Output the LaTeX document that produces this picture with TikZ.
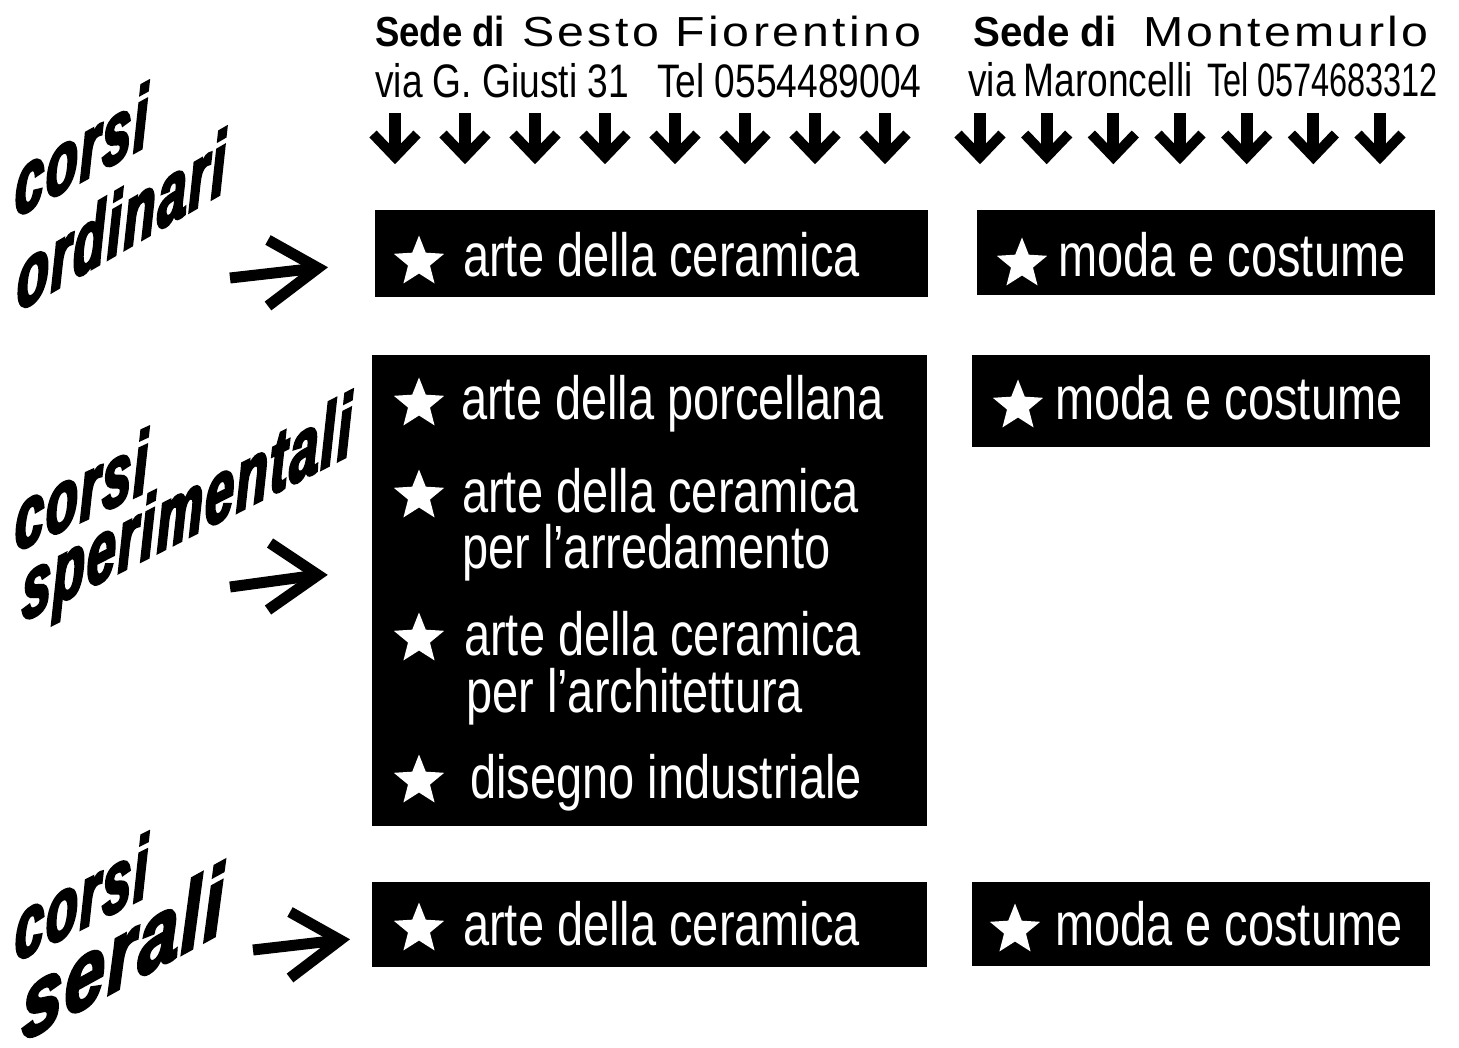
\documentclass[tikz,border=0pt]{standalone}
\usepackage{fontspec}
\setmainfont{Liberation Sans}
\newfontfamily\voceFont[FakeStretch=0.77]{Liberation Sans}
\newfontfamily\viaFont[FakeStretch=0.79]{Liberation Sans}
\newfontfamily\telFont[FakeStretch=0.69]{Liberation Sans}
\newfontfamily\sedeFont[FakeStretch=0.87]{Liberation Sans}
\newfontfamily\sedeFontB[FakeStretch=0.96]{Liberation Sans}
\newfontfamily\cittaFont[FakeStretch=1.15,LetterSpace=8]{Liberation Sans}
\newfontfamily\wordFont[FakeStretch=0.68,FakeBold=3.5,LetterSpace=3]{Liberation Sans}
\newfontfamily\wordFontB[FakeStretch=0.86,FakeBold=3.5,LetterSpace=3]{Liberation Sans}
\usepackage{tikz}
\usetikzlibrary{shapes.geometric}
\newcommand{\frecceGiu}[1]{
	\foreach \x in {#1} {
		\draw [giu,line width=12pt] (\x,113)--(\x,150);
		\draw [giu] (\x-22,134)--(\x,157)--(\x+22,134);
	}
}
\tikzset{
	scatola/.style={fill=black,inner sep=0,anchor=north west},
	voce/.style={text=white,inner sep=0,anchor=base west,font=\voceFont\fontsize{61}{61}\selectfont},
	stella/.style={star,star points=5,star point ratio=2.3,fill=white,minimum size=53,inner sep=0},
	testa/.style={inner sep=0,anchor=base west},
	parola/.style={yslant=#1,yscale=1.15,transform shape,inner sep=0,anchor=base west,font=\wordFont\bfseries\itshape\fontsize{76}{76}\selectfont},
	giu/.style={line width=10pt,miter limit=10},
	freccia/.style={line width=11pt,miter limit=10}
}

\begin{document}
\begin{tikzpicture}[x=1pt,y=-1pt]
\useasboundingbox (0,0) rectangle (1459,1048);
\fill [white] (0,0) rectangle (1459,1048);

% intestazioni delle due sedi
\node [testa,font=\sedeFont\bfseries\fontsize{42}{42}\selectfont]	(sedeS)	at (375,47) {Sede di};
\node [testa,font=\cittaFont\fontsize{42}{42}\selectfont]	(cittaS)	at (522,47) {Sesto Fiorentino};
\node [testa,font=\viaFont\fontsize{47}{47}\selectfont]	(viaS)	at (375,98) {via G. Giusti 31};
\node [testa,font=\viaFont\fontsize{47}{47}\selectfont]	(telS)	at (657,98) {Tel 0554489004};

\node [testa,font=\sedeFontB\bfseries\fontsize{42}{42}\selectfont]	(sedeM)	at (973,47) {Sede di};
\node [testa,font=\cittaFont\fontsize{42}{42}\selectfont]	(cittaM)	at (1143,47) {Montemurlo};
\node [testa,font=\viaFont\fontsize{47}{47}\selectfont]	(viaM)	at (968,97) {via\,Maroncelli};
\node [testa,font=\telFont\fontsize{47}{47}\selectfont]	(telM)	at (1207,97) {Tel 0574683312};

\frecceGiu {395,465,...,885};
\frecceGiu {980,1046.67,...,1381};

% corsi ordinari
\node [shift={(15,218)},parola=0.55]	(corsiA)	at (0,0) {corsi};
\node [shift={(17,312)},parola=0.58]	(ordinari)	at (0,0) {ordinari};
\coordinate (fA1) at (230,278);
\coordinate (fA2) at (318,268);
\draw [freccia] (fA1)--(fA2);
\draw [freccia] (268,240)--(fA2)--(268,306);

\node [scatola,minimum width=553,minimum height=87]	(ordS)	at (375,210) {};
\node [stella]	(stOrdS)	at (419,262) {};
\node [voce]	(vOrdS)	at (463,277) {arte della ceramica};

\node [scatola,minimum width=458,minimum height=85]	(ordM)	at (977,210) {};
\node [stella]	(stOrdM)	at (1022,264) {};
\node [voce]	(vOrdM)	at (1058,277) {moda e costume};

% corsi sperimentali
\node [shift={(15,552)},parola=0.46]	(corsiB)	at (0,0) {corsi};
\node [shift={(22,622)},parola=0.51]	(sperimentali)	at (0,0) {sperimentali};
\coordinate (fB1) at (230,587);
\coordinate (fB2) at (318,575);
\draw [freccia] (fB1)--(fB2);
\draw [freccia] (270,543)--(fB2)--(268,610);

\node [scatola,minimum width=555,minimum height=471]	(spS)	at (372,355) {};
\node [stella]	(stSpA)	at (419,404) {};
\node [voce]	(vSpA)	at (461,420) {arte della porcellana};
\node [stella]	(stSpB)	at (419,496) {};
\node [voce]	(vSpB)	at (462,512) {arte della ceramica};
\node [voce]	(vSpB2)	at (462,568) {per l’arredamento};
\node [stella]	(stSpC)	at (419,639) {};
\node [voce]	(vSpC)	at (464,655) {arte della ceramica};
\node [voce]	(vSpC2)	at (466,712) {per l’architettura};
\node [stella]	(stSpD)	at (419,781) {};
\node [voce]	(vSpD)	at (470,798) {disegno industriale};

\node [scatola,minimum width=458,minimum height=92]	(spM)	at (972,355) {};
\node [stella]	(stSpM)	at (1018,406) {};
\node [voce]	(vSpM)	at (1055,420) {moda e costume};

% corsi serali
\node [shift={(15,962)},parola=0.5]	(corsiC)	at (0,0) {corsi};
\node [shift={(22,1042)},parola=0.55,font=\wordFontB\bfseries\itshape\fontsize{84}{84}\selectfont]	(serali)	at (0,0) {serali};
\coordinate (fC1) at (253,950);
\coordinate (fC2) at (340,940);
\draw [freccia] (fC1)--(fC2);
\draw [freccia] (290,912)--(fC2)--(290,978);

\node [scatola,minimum width=555,minimum height=85]	(serS)	at (372,882) {};
\node [stella]	(stSerS)	at (419,929) {};
\node [voce]	(vSerS)	at (463,945) {arte della ceramica};

\node [scatola,minimum width=458,minimum height=84]	(serM)	at (972,882) {};
\node [stella]	(stSerM)	at (1015,930) {};
\node [voce]	(vSerM)	at (1055,945) {moda e costume};
\end{tikzpicture}
\end{document}
